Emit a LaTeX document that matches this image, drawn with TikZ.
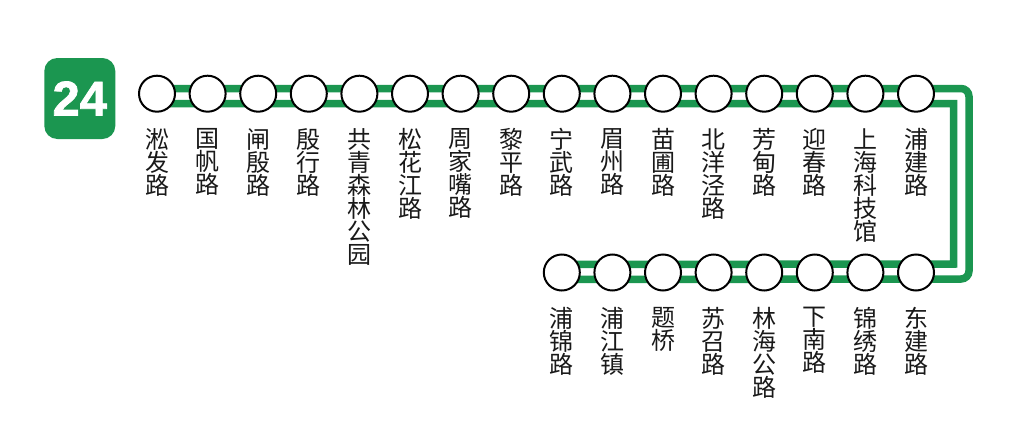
\documentclass[tikz,border=0pt]{standalone}
\usepackage{fontspec}
\newfontfamily\cjk{Noto Sans CJK SC}
\newfontfamily\badgefont[FakeBold=1.5]{Liberation Sans Bold}
\definecolor{linegreen}{HTML}{1B9650}
\tikzset{
  x=1pt,y=-1pt,
  station/.style={circle,draw=black,fill=white,line width=2pt,minimum size=36pt,inner sep=0pt},
  rail/.style={draw=linegreen,line width=7.5pt,line join=miter},
  stationlabel/.style={anchor=north,inner sep=0pt,align=center,text=black!90,font=\cjk\fontsize{24pt}{23pt}\selectfont},
  badge/.style={fill=linegreen,rounded corners=13pt,draw=none,minimum width=71pt,minimum height=81pt,inner sep=0pt,text=white,font=\badgefont\fontsize{49pt}{49pt}\selectfont}
}
\begin{document}
\begin{tikzpicture}
\useasboundingbox (0,0) rectangle (1012,447);
\fill[white] (0,0) rectangle (1012,447);
\node[badge] (badge) at (79.8,98.5) {\raisebox{-2pt}{24}};
% named rail corners
\coordinate (railAtop) at (157,88.5);
\coordinate (railBtop) at (157,103.5);
\coordinate (railAbot) at (562,264.5);
\coordinate (railBbot) at (562,279.5);
\coordinate (outerNE) at (969,88.5);
\coordinate (outerSE) at (969,279);
\coordinate (innerNE) at (953.5,103.5);
\coordinate (innerSE) at (953.5,264);
\draw[rail,rounded corners=8pt] (railAtop) -- (outerNE) -- (outerSE) -- (railBbot);
\draw[rail] (railBtop) -- (innerNE) -- (innerSE) -- (railAbot);
% top row
\foreach \i/\t in {0/淞\\发\\路,1/国\\帆\\路,2/闸\\殷\\路,3/殷\\行\\路,4/共\\青\\森\\林\\公\\园,5/松\\花\\江\\路,6/周\\家\\嘴\\路,7/黎\\平\\路,8/宁\\武\\路,9/眉\\州\\路,10/苗\\圃\\路,11/北\\洋\\泾\\路,12/芳\\甸\\路,13/迎\\春\\路,14/上\\海\\科\\技\\馆,15/浦\\建\\路}{
  \node[station] (t\i) at ({157+50.6*\i},93.7) {};
  \node[stationlabel] (tl\i) at ({157+50.6*\i},128.5) {\t};
}
% bottom row
\foreach \i/\t in {8/浦\\锦\\路,9/浦\\江\\镇,10/题\\桥,11/苏\\召\\路,12/林\\海\\公\\路,13/下\\南\\路,14/锦\\绣\\路,15/东\\建\\路}{
  \node[station] (b\i) at ({157+50.6*\i},272.5) {};
  \node[stationlabel] (bl\i) at ({157+50.6*\i},307) {\t};
}
\end{tikzpicture}
\end{document}
